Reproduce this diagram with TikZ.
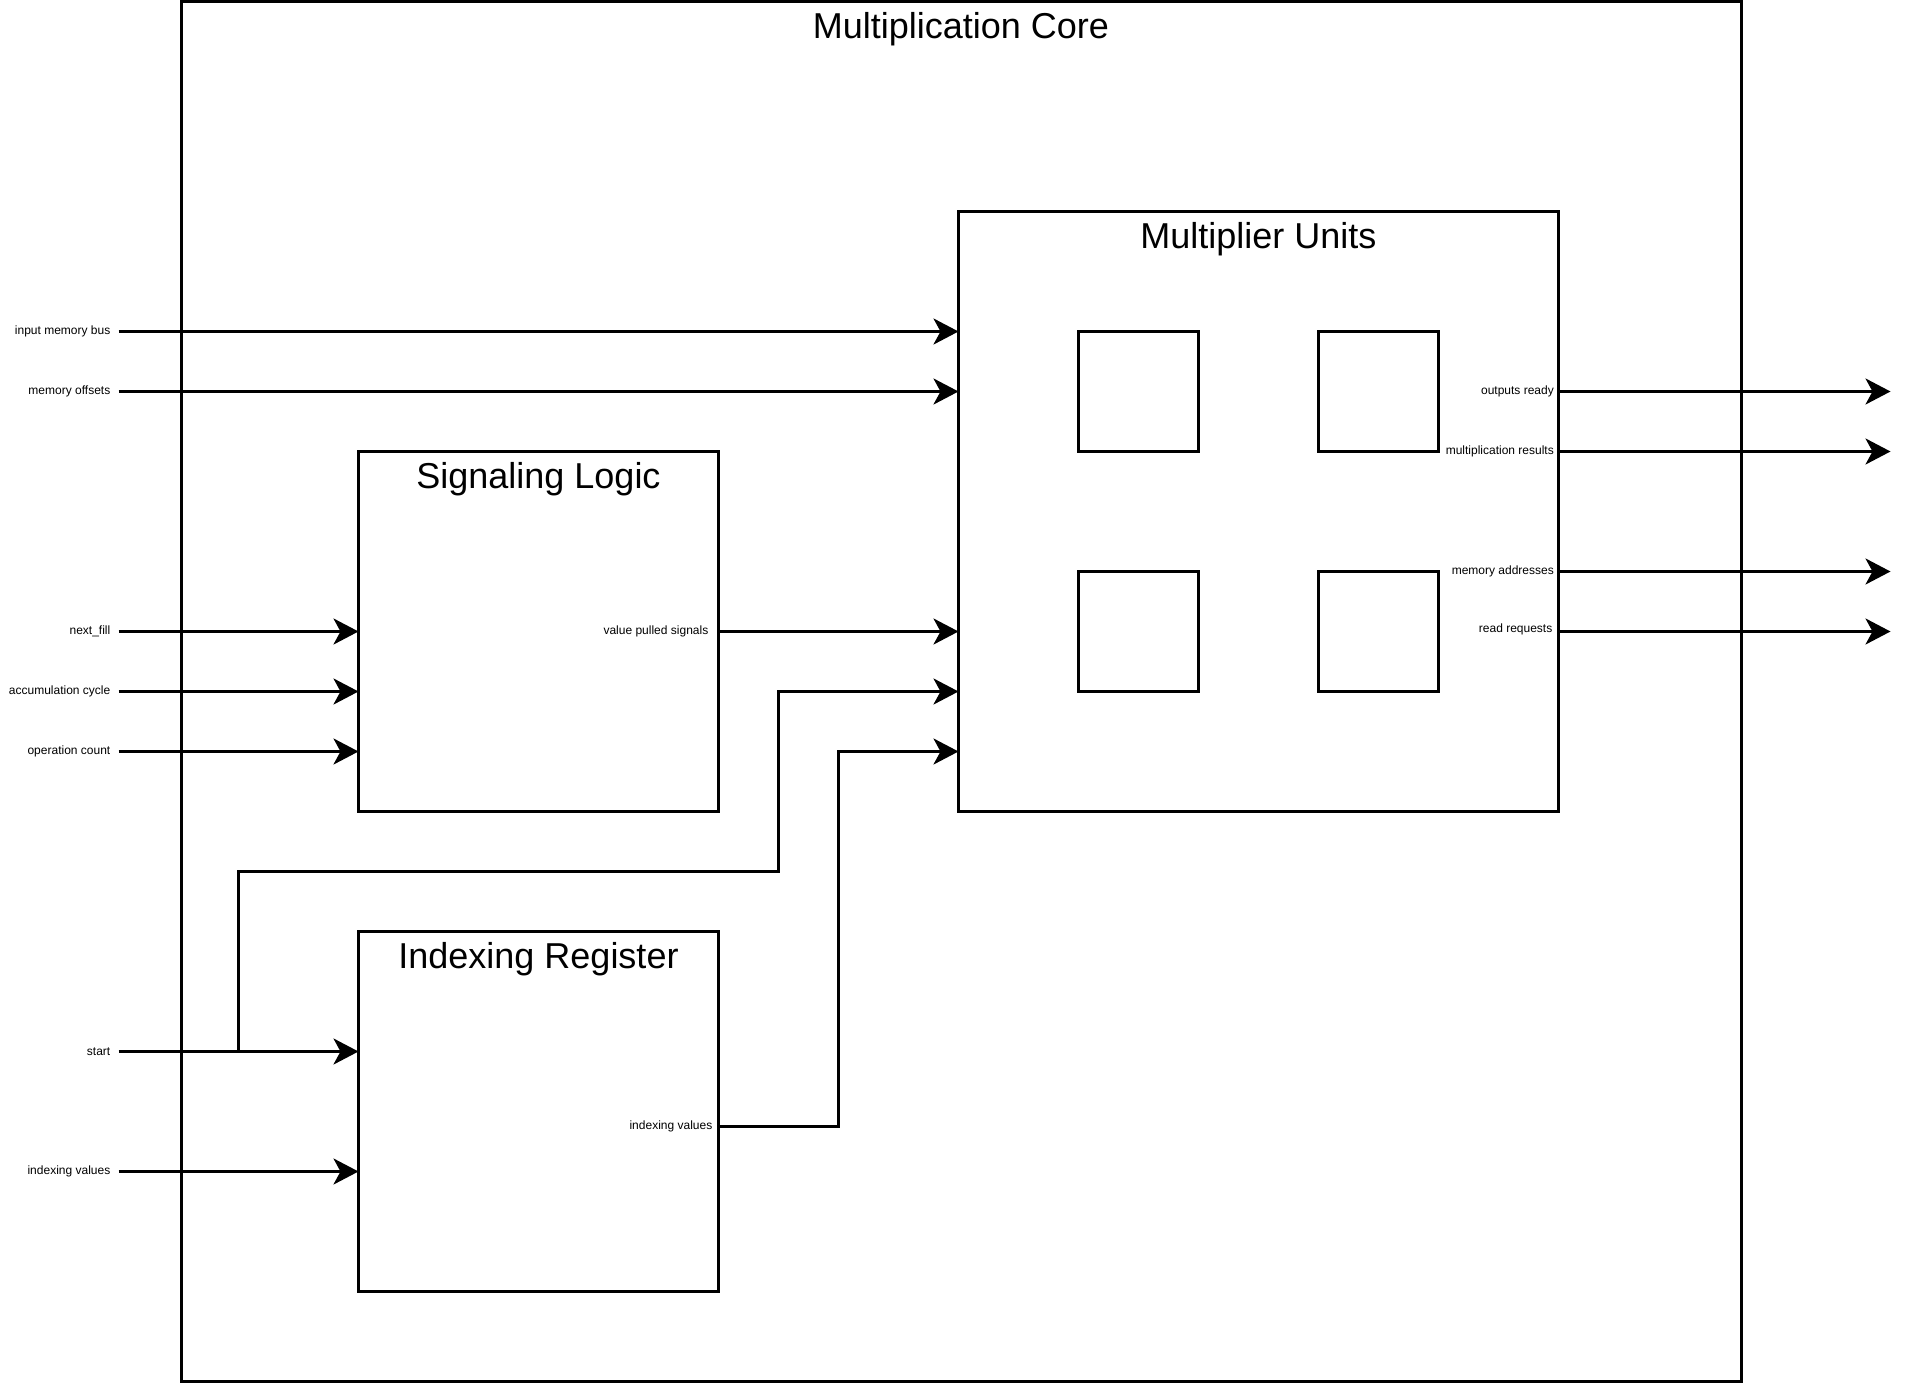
\documentclass[tikz,border=0pt]{standalone}
\usepackage{fontspec}
\setmainfont{Liberation Sans}
\usetikzlibrary{arrows.meta}
\begin{document}
\begin{tikzpicture}[x=1pt,y=-1pt,
  blk/.style={draw,line width=3pt,inner sep=0pt,outer sep=0pt},
  ttl/.style={font=\fontsize{36}{43}\selectfont,anchor=base,inner sep=0pt},
  lbl/.style={font=\fontsize{12}{14}\selectfont,inner ysep=0pt,anchor=east},
  wire/.style={line width=3pt},
  conn/.style={line width=3pt,-{Stealth[length=25pt,width=26pt,inset=7pt]}}]
\useasboundingbox (0,0) rectangle (1917,1383);
% boxes
\node[blk,minimum width=1560pt,minimum height=1380pt] (core) at (961,691.5) {};
\node[blk,minimum width=600pt,minimum height=600pt] (mult) at (1258.5,511.5) {};
\node[blk,minimum width=360pt,minimum height=360pt] (sig) at (538.5,631.5) {};
\node[blk,minimum width=360pt,minimum height=360pt] (idx) at (538.5,1111.5) {};
\node[blk,minimum width=120pt,minimum height=120pt] (u1) at (1138.5,391.5) {};
\node[blk,minimum width=120pt,minimum height=120pt] (u2) at (1378.5,391.5) {};
\node[blk,minimum width=120pt,minimum height=120pt] (u3) at (1138.5,631.5) {};
\node[blk,minimum width=120pt,minimum height=120pt] (u4) at (1378.5,631.5) {};
% titles
\node[ttl] (coret) at (961,38.5) {Multiplication Core};
\node[ttl] (multt) at (1258.5,248.5) {Multiplier Units};
\node[ttl] (sigt) at (538.5,488.5) {Signaling Logic};
\node[ttl] (idxt) at (538.5,968.5) {Indexing Register};
% left inputs
\node[lbl,inner xsep=8pt] (l1) at (118.5,331.5) {input memory bus};
\node[lbl,inner xsep=8pt] (l2) at (118.5,391.5) {memory offsets};
\node[lbl,inner xsep=8pt] (l3) at (118.5,631.5) {next\_fill};
\node[lbl,inner xsep=8pt] (l4) at (118.5,691.5) {accumulation cycle};
\node[lbl,inner xsep=8pt] (l5) at (118.5,751.5) {operation count};
\node[lbl,inner xsep=8pt] (l6) at (118.5,1051.5) {start};
\node[lbl,inner xsep=8pt] (l7) at (118.5,1171.5) {indexing values};
\draw[conn] (l1.east) -- (l1.east -| mult.west);
\draw[conn] (l2.east) -- (l2.east -| mult.west);
\draw[conn] (l3.east) -- (l3.east -| sig.west);
\draw[conn] (l4.east) -- (l4.east -| sig.west);
\draw[conn] (l5.east) -- (l5.east -| sig.west);
\draw[conn] (l6.east) -- (l6.east -| idx.west);
\draw[conn] (l7.east) -- (l7.east -| idx.west);
% inner outputs
\node[lbl,inner xsep=10pt] (vp) at (718.5,631.5) {value pulled signals};
\node[lbl,inner xsep=6pt] (iv) at (718.5,1126.5) {indexing values};
\draw[conn] (vp.east) -- (vp.east -| mult.west);
\coordinate (j) at (238.5,1051.5);
\coordinate (b2) at (778.5,871.5);
\coordinate (in2) at (958.5,691.5);
\coordinate (c3) at (838.5,751.5);
\coordinate (in3) at (958.5,751.5);
\draw[conn] (j) |- (b2) |- (in2);
\draw[conn] (iv.east) -| (c3) -- (in3);
% right outputs
\node[lbl,inner xsep=4.5pt] (r1) at (1558.5,391.5) {outputs ready};
\node[lbl,inner xsep=4.5pt] (r2) at (1558.5,451.5) {multiplication results};
\node[lbl,inner xsep=4.5pt] (r3) at (1558.5,571.5) {memory addresses};
\node[lbl,inner xsep=6pt] (r4) at (1558.5,629.5) {read requests};
\coordinate (o1) at (1890.5,391.5);
\coordinate (o2) at (1890.5,451.5);
\coordinate (o3) at (1890.5,571.5);
\coordinate (o4) at (1890.5,631.5);
\draw[conn] (r1.east) -- (o1);
\draw[conn] (r2.east) -- (o2);
\draw[conn] (r3.east) -- (o3);
\draw[conn] (1558.5,631.5) coordinate (r4e) -- (o4);
\end{tikzpicture}
\end{document}
